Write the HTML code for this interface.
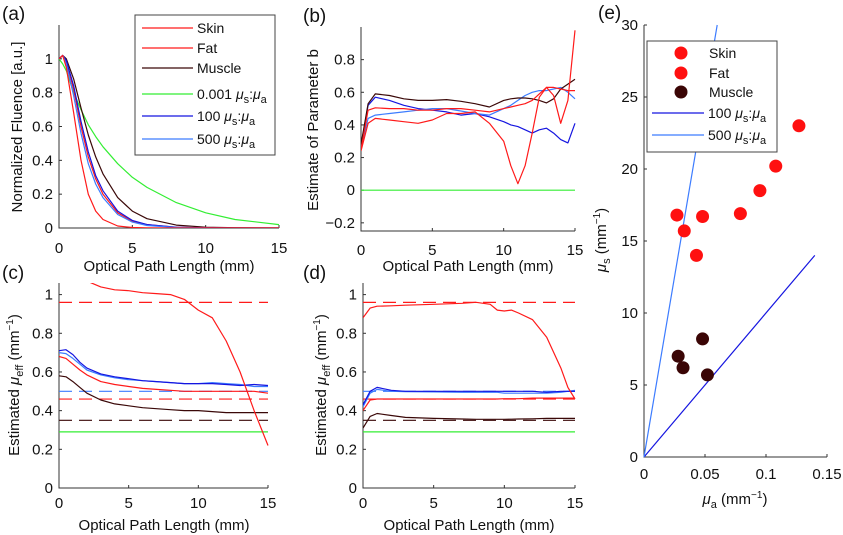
<!DOCTYPE html>
<html><head><meta charset="utf-8"><style>
html,body{margin:0;padding:0;background:#fff;}
svg{display:block;font-family:"Liberation Sans",Arial,sans-serif;}
</style></head><body>
<svg id="chart" width="843" height="535" viewBox="0 0 843 535" xmlns="http://www.w3.org/2000/svg"></svg>
<script>
// ---------- data ----------
const aX = [0,0.25,0.5,1,1.5,2,2.5,3,4,5,6,8,10,12,15];
const aSkin = [1,1.02,0.95,0.68,0.40,0.2,0.1,0.05,0.012,0.003,0.001,0,0,0,0];
const aFat = [1,1.02,0.98,0.82,0.60,0.42,0.29,0.2,0.09,0.04,0.02,0.005,0.001,0,0];
const aMuscle = [1,1.02,1.0,0.88,0.71,0.55,0.42,0.32,0.18,0.1,0.055,0.017,0.005,0.002,0];
const aGreen = [1,0.97,0.93,0.8,0.7,0.61,0.54,0.48,0.38,0.3,0.24,0.15,0.09,0.05,0.02];
const aBlue100 = [1,1.02,0.99,0.84,0.63,0.45,0.31,0.22,0.1,0.045,0.02,0.005,0.001,0,0];
const aBlue500 = [1,1.02,0.97,0.78,0.56,0.38,0.26,0.18,0.08,0.035,0.015,0.003,0,0,0];

const bX = [0,0.5,1,2,3,4,5,6,7,8,9,10,10.5,11,11.5,12,12.5,13,13.5,14,14.5,15];
const bMuscle = [0.28,0.53,0.59,0.58,0.56,0.55,0.55,0.555,0.545,0.53,0.51,0.55,0.56,0.565,0.565,0.56,0.55,0.535,0.56,0.62,0.65,0.68];
const bBlue100 = [0.27,0.52,0.57,0.55,0.52,0.5,0.49,0.48,0.46,0.47,0.45,0.42,0.4,0.39,0.37,0.35,0.37,0.38,0.35,0.31,0.29,0.41];
const bBlue500 = [0.26,0.44,0.46,0.47,0.48,0.49,0.5,0.5,0.485,0.47,0.46,0.5,0.52,0.55,0.58,0.6,0.61,0.61,0.62,0.63,0.6,0.56];
const bFat = [0.25,0.49,0.505,0.5,0.5,0.49,0.49,0.5,0.5,0.49,0.48,0.5,0.51,0.52,0.53,0.55,0.59,0.63,0.63,0.62,0.61,0.61];
const bSkin = [0.24,0.41,0.44,0.43,0.42,0.41,0.43,0.47,0.47,0.48,0.41,0.3,0.15,0.04,0.15,0.35,0.57,0.63,0.58,0.41,0.55,0.98];
const bGreen = [0,0,0,0,0,0,0,0,0,0,0,0,0,0,0,0,0,0,0,0,0,0];

const cX = [0,0.5,1,1.5,2,3,4,5,6,7,8,9,10,11,12,13,14,15];
const cSkin = [null,null,null,null,1.07,1.04,1.025,1.02,1.01,1.005,1.0,0.975,0.92,0.88,0.76,0.6,0.4,0.22];
const cBlue100 = [0.71,0.715,0.69,0.65,0.62,0.59,0.575,0.565,0.555,0.55,0.545,0.54,0.54,0.54,0.535,0.53,0.535,0.53];
const cBlue500 = [0.70,0.695,0.67,0.64,0.61,0.585,0.57,0.56,0.555,0.55,0.545,0.54,0.54,0.545,0.54,0.535,0.525,0.525];
const cFat = [0.68,0.67,0.64,0.61,0.585,0.55,0.535,0.525,0.515,0.51,0.505,0.5,0.5,0.5,0.5,0.5,0.5,0.49];
const cMuscle = [0.58,0.575,0.55,0.52,0.49,0.455,0.435,0.425,0.415,0.41,0.405,0.4,0.4,0.395,0.39,0.39,0.39,0.39];
const cGreen = [0.29,0.29,0.29,0.29,0.29,0.29,0.29,0.29,0.29,0.29,0.29,0.29,0.29,0.29,0.29,0.29,0.29,0.29];

const dX = [0,0.5,1,2,3,5,7,8,9,9.5,10,10.5,11,12,13,14,14.5,15];
const dSkin = [0.88,0.93,0.94,0.942,0.945,0.95,0.955,0.96,0.95,0.92,0.915,0.92,0.905,0.87,0.78,0.62,0.52,0.46];
const dBlue100 = [0.43,0.5,0.52,0.505,0.5,0.5,0.5,0.5,0.5,0.5,0.5,0.5,0.5,0.5,0.495,0.5,0.5,0.5];
const dBlue500 = [0.42,0.49,0.51,0.5,0.498,0.497,0.495,0.495,0.495,0.495,0.49,0.49,0.49,0.49,0.49,0.495,0.5,0.505];
const dFat = [0.40,0.455,0.46,0.46,0.46,0.46,0.46,0.46,0.46,0.46,0.462,0.462,0.462,0.465,0.465,0.465,0.465,0.465];
const dMuscle = [0.31,0.37,0.385,0.375,0.365,0.36,0.357,0.355,0.355,0.355,0.355,0.356,0.357,0.358,0.36,0.36,0.36,0.36];
const dGreen = [0.29,0.29,0.29,0.29,0.29,0.29,0.29,0.29,0.29,0.29,0.29,0.29,0.29,0.29,0.29,0.29,0.29,0.29];

const refSkin = 0.96, refBlue = 0.5, refFat = 0.46, refMuscle = 0.35;

const eSkinFatMuA = [0.027,0.033,0.043,0.048,0.079,0.095,0.108,0.127];
const eSkinFatMuS = [16.8,15.7,14.0,16.7,16.9,18.5,20.2,23.0];
const eMuscleMuA = [0.028,0.032,0.048,0.052];
const eMuscleMuS = [7.0,6.2,8.2,5.7];
const eRatios = [100,500];
const eRatioEndMuA = [0.14,0.06];

const ticks01 = [0,5,10,15];
const yTicksA = [0,0.2,0.4,0.6,0.8,1];
const yTicksB = [-0.2,0,0.2,0.4,0.6,0.8];
const yTicksC = [0,0.2,0.4,0.6,0.8,1];
const xTicksE = [0,0.05,0.1,0.15];
const yTicksE = [0,5,10,15,20,25,30];

// ---------- drawing ----------
const RED='#ff1a1a', MUS='#3a0808', GRN='#33ee33', BLU='#1515e0', LBL='#3c7cff';
const NS='http://www.w3.org/2000/svg';
const svg=document.getElementById('chart');
function el(tag,attrs,parent){const e=document.createElementNS(NS,tag);for(const k in attrs)e.setAttribute(k,attrs[k]);(parent||svg).appendChild(e);return e;}
function fmt(v){return String(Math.round(v*1000)/1000).replace('-','\u2212');}

function panel(id,g,xmin,xmax,ymin,ymax,xt,yt,xoff){
  const grp=el('g',{});
  
  
  const sx=v=>g.x0+(v-xmin)/(xmax-xmin)*(g.x1-g.x0);
  const sy=v=>g.y0-(v-ymin)/(ymax-ymin)*(g.y0-g.y1);
  const cp=el('clipPath',{id:'clip-'+id},grp);
  el('rect',{x:g.x0,y:g.y1,width:g.x1-g.x0+2,height:g.y0-g.y1},cp);
  const ax=el('path',{d:`M${g.x0},${g.y1}V${g.y0}H${g.x1}`,fill:'none',stroke:'#333','stroke-width':1},grp);
  
  
  xt.forEach(v=>{
    const x=sx(v);
    el('line',{x1:x,x2:x,y1:g.y0,y2:g.y0-3,stroke:'#333'},grp);
    const t=el('text',{x:x,y:g.y0+xoff,'text-anchor':'middle','font-size':15,fill:'#111'},grp);
    t.textContent=fmt(v);
    
    
  });
  yt.forEach(v=>{
    const y=sy(v);
    el('line',{x1:g.x0,x2:g.x0+3,y1:y,y2:y,stroke:'#333'},grp);
    const t=el('text',{x:g.x0-6,y:y+5,'text-anchor':'end','font-size':15,fill:'#111'},grp);
    t.textContent=fmt(v);
    
    
  });
  const plot=el('g',{'clip-path':`url(#clip-${id})`},grp);
  return {sx,sy,plot,grp};
}
function line(p,xs,ys,color,name,dash){
  let d='';let pen=false;
  xs.forEach((x,i)=>{const y=ys[i];if(y===null){pen=false;return;}d+=(pen?'L':'M')+p.sx(x).toFixed(1)+','+p.sy(y).toFixed(1);pen=true;});
  const e=el('path',{d:d,fill:'none',stroke:color,'stroke-width':1.2,'stroke-linejoin':'round'},p.plot);
  if(dash)e.setAttribute('stroke-dasharray',dash);
  
  
}
function hline(p,v,x0,x1,color,name){
  const e=el('line',{x1:p.sx(x0),x2:p.sx(x1),y1:p.sy(v),y2:p.sy(v),stroke:color,'stroke-width':1.2,'stroke-dasharray':'13,7'},p.plot);
  
  
}
function label(x,y,txt,size,name,rot,anchor){
  const t=el('text',{x:x,y:y,'font-size':size,fill:'#111','text-anchor':anchor||'middle'});
  if(rot)t.setAttribute('transform',`rotate(-90 ${x} ${y})`);
  t.innerHTML=txt;
  
  
  return t;
}
const MU='<tspan font-style="italic">\u03bc</tspan>';
const SUBS='<tspan font-size="11" dy="4">s</tspan><tspan dy="-4">';
const SUBA='<tspan font-size="11" dy="4">a</tspan><tspan dy="-4">';

// Panel A
const A=panel('a',{x0:59,x1:279,y0:228,y1:25},0,15,0,1.2,ticks01,yTicksA,25);
line(A,aX,aGreen,GRN,'line-a-0.001');
line(A,aX,aMuscle,MUS,'line-a-muscle');
line(A,aX,aFat,RED,'line-a-fat');
line(A,aX,aBlue100,BLU,'line-a-100');
line(A,aX,aBlue500,LBL,'line-a-500');
line(A,aX,aSkin,RED,'line-a-skin');
label(2,20,'(a)',19,'panel-label-a',false,'start');
label(22,127,'Normalized Fluence [a.u.]',15,'y-axis-title-a',true);
label(169,271,'Optical Path Length (mm)',15,'x-axis-title-a');
// legend A
const lgA=el('g',{});


el('rect',{x:135,y:15,width:140,height:140,fill:'#fff',stroke:'#444','stroke-width':1},lgA);
const legA=[['Skin',RED],['Fat',RED],['Muscle',MUS],['0.001 '+MU+SUBS+':'+MU+SUBA+'</tspan>',GRN],['100 '+MU+SUBS+':'+MU+SUBA+'</tspan>',BLU],['500 '+MU+SUBS+':'+MU+SUBA+'</tspan>',LBL]];
const legAy=[28,48,68,94,116,139];
legA.forEach((l,i)=>{
  const y=legAy[i];
  const s=el('line',{x1:142,x2:193,y1:y,y2:y,stroke:l[1],'stroke-width':1.3},lgA);
  
  
  const t=el('text',{x:197,y:y+5,'font-size':14,fill:'#111'},lgA);
  t.innerHTML=l[0];
  
  
});

// Panel B
const B=panel('b',{x0:361,x1:575,y0:231,y1:27},0,15,-0.25,1.0,ticks01,yTicksB,24);
line(B,bX,bGreen,GRN,'line-b-0.001');
line(B,bX,bBlue100,BLU,'line-b-100');
line(B,bX,bBlue500,LBL,'line-b-500');
line(B,bX,bMuscle,MUS,'line-b-muscle');
line(B,bX,bFat,RED,'line-b-fat');
line(B,bX,bSkin,RED,'line-b-skin');
label(303,22,'(b)',19,'panel-label-b',false,'start');
label(318,130,'Estimate of Parameter b',15,'y-axis-title-b',true);
label(468,271,'Optical Path Length (mm)',15,'x-axis-title-b');

// Panel C
const C=panel('c',{x0:59,x1:268,y0:488,y1:283},0,15,0,1.06,ticks01,yTicksC,20);
hline(C,refSkin,0,15,RED,'ref-c-skin');
hline(C,refBlue,0,15,LBL,'ref-c-100');
hline(C,refFat,0,15,RED,'ref-c-fat');
hline(C,refMuscle,0,15,MUS,'ref-c-muscle');
line(C,cX,cGreen,GRN,'line-c-0.001');
line(C,cX,cMuscle,MUS,'line-c-muscle');
line(C,cX,cFat,RED,'line-c-fat');
line(C,cX,cBlue500,LBL,'line-c-500');
line(C,cX,cBlue100,BLU,'line-c-100');
line(C,cX,cSkin,RED,'line-c-skin');
label(2,279,'(c)',19,'panel-label-c',false,'start');
label(19,385,'Estimated '+MU+'<tspan font-size="11" dy="4">eff</tspan><tspan dy="-4"> (mm</tspan><tspan font-size="10" dy="-6">\u22121</tspan><tspan dy="6">)</tspan>',15,'y-axis-title-c',true);
label(164,530,'Optical Path Length (mm)',15,'x-axis-title-c');

// Panel D
const D=panel('d',{x0:363,x1:575,y0:488,y1:283},0,15,0,1.06,ticks01,yTicksC,20);
hline(D,refSkin,0,15,RED,'ref-d-skin');
hline(D,refBlue,0,15,LBL,'ref-d-100');
hline(D,refFat,0,15,RED,'ref-d-fat');
hline(D,refMuscle,0,15,MUS,'ref-d-muscle');
line(D,dX,dGreen,GRN,'line-d-0.001');
line(D,dX,dMuscle,MUS,'line-d-muscle');
line(D,dX,dFat,RED,'line-d-fat');
line(D,dX,dBlue500,LBL,'line-d-500');
line(D,dX,dBlue100,BLU,'line-d-100');
line(D,dX,dSkin,RED,'line-d-skin');
label(303,279,'(d)',19,'panel-label-d',false,'start');
label(326,385,'Estimated '+MU+'<tspan font-size="11" dy="4">eff</tspan><tspan dy="-4"> (mm</tspan><tspan font-size="10" dy="-6">\u22121</tspan><tspan dy="6">)</tspan>',15,'y-axis-title-d',true);
label(469,530,'Optical Path Length (mm)',15,'x-axis-title-d');

// Panel E
const E=panel('e',{x0:644,x1:827,y0:457,y1:25},0,0.15,0,30,xTicksE,yTicksE,22);
E.plot.removeAttribute('clip-path');
const eCols=[BLU,LBL];
eRatios.forEach((r,i)=>{
  const e=el('line',{x1:E.sx(0),y1:E.sy(0),x2:E.sx(eRatioEndMuA[i]),y2:E.sy(eRatioEndMuA[i]*r),stroke:eCols[i],'stroke-width':1.2},E.plot);
  
  
});
eSkinFatMuA.forEach((v,i)=>{
  const c=el('circle',{cx:E.sx(v),cy:E.sy(eSkinFatMuS[i]),r:6.5,fill:'#ff1010'},E.plot);
  
  
});
eMuscleMuA.forEach((v,i)=>{
  const c=el('circle',{cx:E.sx(v),cy:E.sy(eMuscleMuS[i]),r:6.5,fill:'#3a0505'},E.plot);
  
  
});
label(598,19,'(e)',19,'panel-label-e',false,'start');
label(606,240,MU+'<tspan font-size="11" dy="4">s</tspan><tspan dy="-4"> (mm</tspan><tspan font-size="10" dy="-6">\u22121</tspan><tspan dy="6">)</tspan>',15,'y-axis-title-e',true);
label(735,504,MU+'<tspan font-size="11" dy="4">a</tspan><tspan dy="-4"> (mm</tspan><tspan font-size="10" dy="-6">\u22121</tspan><tspan dy="6">)</tspan>',15,'x-axis-title-e');
// legend E
const lgE=el('g',{});


el('rect',{x:647,y:41,width:130,height:111,fill:'#fff',stroke:'#444'},lgE);
[['Skin','#ff1010',53],['Fat','#ff1010',73],['Muscle','#3a0505',92]].forEach(l=>{
  const c=el('circle',{cx:681,cy:l[2],r:6.5,fill:l[1]},lgE);
  
  
  const t=el('text',{x:709,y:l[2]+5,'font-size':14,fill:'#111'},lgE);
  t.textContent=l[0];
  
  
});
[['100',BLU,113],['500',LBL,135]].forEach(l=>{
  const s=el('line',{x1:652,x2:704,y1:l[2],y2:l[2],stroke:l[1],'stroke-width':1.3},lgE);
  
  
  const t=el('text',{x:708,y:l[2]+5,'font-size':14,fill:'#111'},lgE);
  t.innerHTML=l[0]+' '+MU+SUBS+':'+MU+SUBA+'</tspan>';
  
  
});
</script>
</body></html>
